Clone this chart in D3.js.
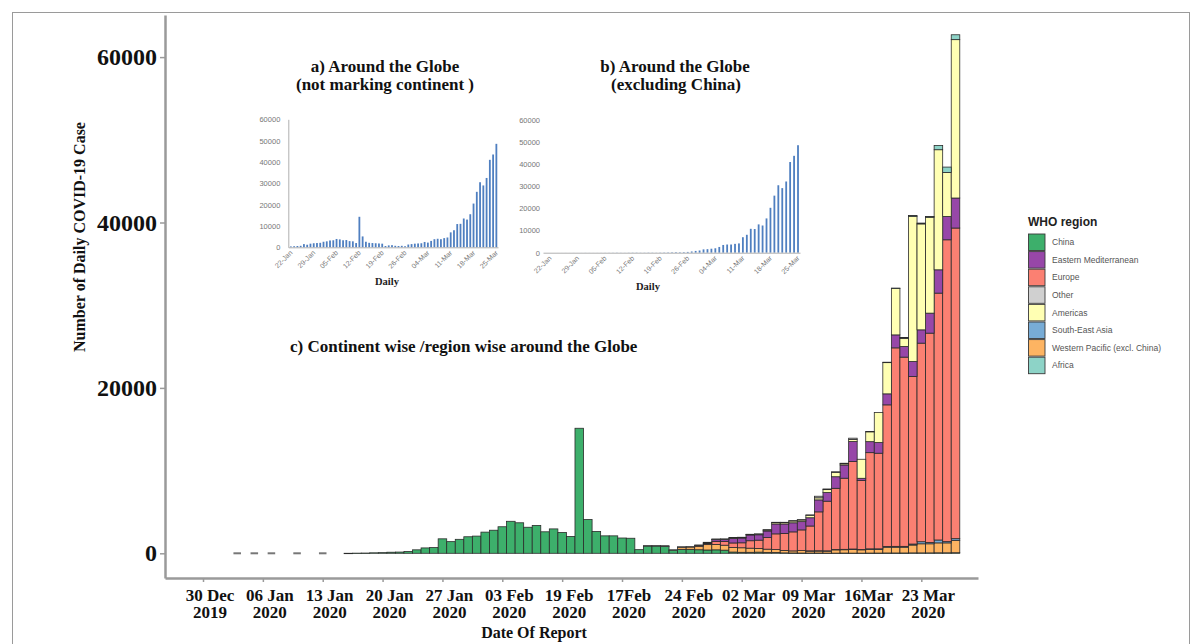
<!DOCTYPE html>
<html><head><meta charset="utf-8">
<script src="https://cdn.jsdelivr.net/npm/d3@7/dist/d3.min.js"></script>
<style>body{margin:0;background:#fff}svg{display:block}</style>
</head><body>
<svg id="chart" width="1200" height="644"></svg>
<script>
// ---------------- DATA ----------------
// Main chart: days with zero reported cases, then consecutive daily reports starting 16 Jan 2020
const zeroDays = ["2020-01-03","2020-01-05","2020-01-07","2020-01-10","2020-01-13"];
const firstDay = "2020-01-16";
const china = [4,17,30,60,80,130,150,220,420,650,690,1750,1410,1690,2000,2080,2560,2790,3210,3870,3690,3150,3370,2600,2950,2520,2040,15120,4090,2640,2110,2110,1850,1820,440,880,880,820,380,480,480,430,400,420,380,150,120,120,140,100,100,50,40,30,30,30,20,20,30,20,20,30,30,40,40,40,50,50,50,60,60,70];
const westernPacific = [0,0,0,0,0,0,0,0,0,0,0,0,0,0,0,0,0,0,0,0,0,0,0,0,0,0,0,0,0,0,0,0,0,0,0,0,0,0,0,250,280,420,650,650,600,550,550,500,450,400,350,300,250,300,250,250,250,400,400,450,400,450,450,700,700,700,950,1100,1100,1200,1200,1500];
const southEastAsia = [0,0,0,0,0,0,0,0,0,0,0,0,0,0,0,0,0,0,0,0,0,0,0,0,0,0,0,0,0,0,0,0,0,0,0,0,0,0,0,0,0,0,0,0,0,0,0,0,0,0,0,0,0,0,20,30,30,40,50,50,50,60,60,80,100,100,120,250,150,350,150,200];
const europe = [0,0,0,0,0,0,0,0,0,0,0,0,0,0,0,0,0,0,0,0,0,0,0,0,0,0,0,0,0,0,0,0,0,0,0,0,0,0,0,0,0,80,120,350,450,550,600,900,1000,1400,1900,2050,2300,2500,3000,4700,6000,7400,8600,10570,8320,11630,11560,17130,24000,22880,20250,24010,25320,29850,36500,37560];
const easternMed = [0,0,0,0,0,0,0,0,0,0,0,0,0,0,0,0,0,0,0,0,0,0,0,0,0,0,0,0,0,0,0,0,0,0,0,0,0,0,0,0,0,40,80,250,250,550,580,700,650,800,1200,1150,1100,1000,1000,1450,1050,1400,1600,2420,280,1330,1290,1330,1570,1290,1820,1610,2420,2820,2820,3630];
const americas = [0,0,0,0,0,0,0,0,0,0,0,0,0,0,0,0,0,0,0,0,0,0,0,0,0,0,0,0,0,0,0,0,0,0,0,0,0,0,0,0,0,0,0,20,20,40,50,60,80,120,170,180,220,200,300,250,350,500,150,250,2300,1210,3630,3810,5600,950,17560,12810,11590,14520,5320,19150];
const other = [0,0,0,0,0,0,0,0,0,0,0,0,0,0,0,0,0,0,0,0,0,0,0,0,0,0,0,0,0,0,0,0,0,0,0,40,40,100,40,60,40,30,80,40,40,60,40,20,20,40,30,20,40,40,40,190,80,100,60,160,0,10,0,0,0,130,0,0,0,0,0,0];
const africa = [0,0,0,0,0,0,0,0,0,0,0,0,0,0,0,0,0,0,0,0,0,0,0,0,0,0,0,0,0,0,0,0,0,0,0,0,0,0,0,0,0,0,0,0,0,0,0,0,0,0,0,0,0,0,0,0,0,0,0,0,0,0,0,10,60,10,100,100,100,520,650,590];

const legendRegions = ["China","Eastern Mediterranean","Europe","Other","Americas","South-East Asia","Western Pacific (excl. China)","Africa"];
const regionColors = ["#3daf6b","#9747a8","#fb8072","#d0d0d0","#ffffb3","#78acd6","#fdb462","#8dd3c7"];
const stackOrder = ["China","Western Pacific (excl. China)","South-East Asia","Europe","Eastern Mediterranean","Americas","Other","Africa"];

const yTicks = [0,20000,40000,60000];
const xTickDates = ["2019-12-30","2020-01-06","2020-01-13","2020-01-20","2020-01-27","2020-02-03","2020-02-10","2020-02-17","2020-02-24","2020-03-02","2020-03-09","2020-03-16","2020-03-23"];
const xTickLine1 = ["30 Dec","06 Jan","13 Jan","20 Jan","27 Jan","03 Feb","19 Feb","17Feb","24 Feb","02 Mar","09 Mar","16Mar","23 Mar"];
const xTickLine2 = ["2019","2020","2020","2020","2020","2020","2020","2020","2020","2020","2020","2020","2020"];

// Insets: daily totals from 22 Jan to 25 Mar
const insetStart = "2020-01-22";
const insetGlobal = [400,500,600,700,1500,1200,1700,1900,2000,2100,2600,2800,3200,3300,3900,3700,3300,3400,2900,2800,2000,14300,5100,2600,2100,2000,1900,1800,1700,600,900,1000,700,600,700,500,1300,1500,1700,1800,1900,2500,2200,3000,3800,4000,3800,4300,4600,7000,8000,10900,11000,13500,13000,15500,20500,26000,30500,29000,32500,41000,43500,48500];
const insetExChina = [4,2,5,10,15,8,20,10,15,30,20,15,20,25,30,40,50,70,40,30,60,80,90,60,70,100,80,60,90,120,150,200,250,200,250,350,550,800,1000,1500,1600,1800,2000,2600,3500,3700,3700,4000,4200,7000,8100,10800,10700,12800,12300,15500,20300,25800,30500,29200,32200,41000,43800,48600];
const insetYTicks = [0,10000,20000,30000,40000,50000,60000];
const insetTickDates = ["2020-01-22","2020-01-29","2020-02-05","2020-02-12","2020-02-19","2020-02-26","2020-03-04","2020-03-11","2020-03-18","2020-03-25"];
const insetTickLabels = ["22-Jan","29-Jan","05-Feb","12-Feb","19-Feb","26-Feb","04-Mar","11-Mar","18-Mar","25-Mar"];

// ---------------- DRAW ----------------
const svg = d3.select("#chart");
const serif = "'Liberation Serif','Times New Roman',serif";
const sans = "'Liberation Sans',Arial,sans-serif";
const P = s => new Date(s + "T00:00:00Z");

svg.append("rect").attr("x",12.5).attr("y",12.5).attr("width",1177).attr("height",640)
  .attr("fill","none").attr("stroke","#9a9a9a").attr("stroke-width",1);

const x = d3.scaleUtc()
  .domain([new Date(Date.UTC(2019,11,25,13,20)), new Date(Date.UTC(2020,2,29,15,7))])
  .range([165, 978]);
const y = d3.scaleLinear().domain([-2987, 65090]).range([578, 15]);

// rows
const seriesByName = {
  "China": china, "Western Pacific (excl. China)": westernPacific, "South-East Asia": southEastAsia,
  "Europe": europe, "Eastern Mediterranean": easternMed, "Americas": americas, "Other": other, "Africa": africa
};
const start = P(firstDay);
const rows = china.map((v,i) => {
  const r = {date: d3.utcDay.offset(start, i)};
  stackOrder.forEach(k => r[k] = seriesByName[k][i]);
  return r;
});
const stacked = d3.stack().keys(stackOrder)(rows);
const colorOf = d3.scaleOrdinal().domain(legendRegions).range(regionColors);

const bars = svg.append("g");
stacked.forEach(layer => {
  bars.selectAll(null).data(layer.filter(d => d[1] - d[0] > 0)).enter().append("rect")
    .attr("x", d => x(d3.utcHour.offset(d.data.date, -12)))
    .attr("width", d => x(d3.utcHour.offset(d.data.date, 12)) - x(d3.utcHour.offset(d.data.date, -12)))
    .attr("y", d => y(d[1]))
    .attr("height", d => Math.max(0.4, y(d[0]) - y(d[1])))
    .attr("fill", colorOf(layer.key))
    .attr("stroke", "#2b2b2b").attr("stroke-width", 0.8);
});
// zero-report days drawn as flat outlines
svg.append("g").selectAll("line").data(zeroDays.map(P)).enter().append("line")
  .attr("x1", d => x(d3.utcHour.offset(d, -12)) + 0.5)
  .attr("x2", d => x(d3.utcHour.offset(d, 12)) - 0.5)
  .attr("y1", y(0)).attr("y2", y(0))
  .attr("stroke", "#777").attr("stroke-width", 2);

// Y axis
const gy = svg.append("g").attr("transform","translate(165,0)")
  .call(d3.axisLeft(y).tickValues(yTicks).tickSize(5).tickSizeOuter(0).tickPadding(3).tickFormat(d3.format("d")));
gy.select(".domain").attr("stroke","#9a9a9a").attr("stroke-width",2.5);
gy.selectAll(".tick line").attr("stroke","#9a9a9a").attr("stroke-width",1.5);
gy.selectAll(".tick text").attr("font-family",serif).attr("font-weight","bold").attr("font-size",24).attr("fill","#111");

// X axis
const gx = svg.append("g").attr("transform","translate(0,578)")
  .call(d3.axisBottom(x).tickValues(xTickDates.map(P)).tickSize(4).tickSizeOuter(0).tickFormat(() => ""));
gx.select(".domain").attr("stroke","#9a9a9a").attr("stroke-width",2.5);
gx.selectAll(".tick line").attr("stroke","#9a9a9a").attr("stroke-width",1.5);
gx.selectAll(".tick text").remove();
const xl = svg.append("g").attr("font-family",serif).attr("font-weight","bold").attr("font-size",17).attr("fill","#111").attr("text-anchor","middle");
xTickDates.forEach((d,i) => {
  xl.append("text").attr("x", x(P(d)) + 7).attr("y", 601).text(xTickLine1[i]);
  xl.append("text").attr("x", x(P(d)) + 7).attr("y", 618).text(xTickLine2[i]);
});

// Axis titles
svg.append("text").attr("x",534).attr("y",638).attr("text-anchor","middle")
  .attr("font-family",serif).attr("font-weight","bold").attr("font-size",16).attr("fill","#111").text("Date Of Report");
svg.append("text").attr("transform","translate(85,237) rotate(-90)").attr("text-anchor","middle")
  .attr("font-family",serif).attr("font-weight","bold").attr("font-size",16).attr("fill","#111").text("Number of Daily COVID-19 Case");

// Panel titles
const titles = [
  {t:"a) Around the Globe", x:385, y:72, a:"middle"},
  {t:"(not marking continent )", x:385, y:90, a:"middle"},
  {t:"b) Around the Globe", x:675, y:72, a:"middle"},
  {t:"(excluding China)", x:676, y:90, a:"middle"},
  {t:"c) Continent wise /region wise around the Globe", x:290, y:352, a:"start"}
];
svg.append("g").selectAll("text").data(titles).enter().append("text")
  .attr("x",d=>d.x).attr("y",d=>d.y).attr("text-anchor",d=>d.a)
  .attr("font-family",serif).attr("font-weight","bold").attr("font-size",17).attr("fill","#111").text(d=>d.t);

// Legend
const lg = svg.append("g");
lg.append("text").attr("x",1028).attr("y",226).attr("font-family",sans).attr("font-weight","bold")
  .attr("font-size",12).attr("fill","#222").text("WHO region");
legendRegions.forEach((r,i) => {
  lg.append("rect").attr("x",1028.5).attr("y",234 + i*17.6).attr("width",16.5).attr("height",16.5)
    .attr("fill",colorOf(r)).attr("stroke","#3a3a3a").attr("stroke-width",0.9);
  lg.append("text").attr("x",1052).attr("y",234 + i*17.6 + 11.2).attr("font-family",sans)
    .attr("font-size",8.5).attr("fill","#555").text(r);
});

// Insets
function inset(values, xr, xDom, yr, showYLine, labelX, labelY) {
  const s = P(insetStart);
  const xs = d3.scaleUtc().domain(xDom).range(xr);
  const ys = d3.scaleLinear().domain([0,60000]).range(yr);
  const g = svg.append("g");
  g.selectAll("rect").data(values).enter().append("rect")
    .attr("x",(v,i)=>xs(d3.utcDay.offset(s,i)) - 0.9).attr("width",1.8)
    .attr("y",v=>ys(v)).attr("height",v=>ys(0)-ys(v))
    .attr("fill","#4f7fc0");
  const ya = g.append("g").attr("transform",`translate(${xr[0]},0)`)
    .call(d3.axisLeft(ys).tickValues(insetYTicks).tickSize(0).tickPadding(showYLine ? 8 : 3).tickFormat(d3.format("d")));
  ya.select(".domain").attr("stroke", showYLine ? "#b0b0b0" : "none").attr("stroke-width",1);
  ya.selectAll("text").attr("font-family",sans).attr("font-size",7.5).attr("fill","#777");
  const xa = g.append("g").attr("transform",`translate(0,${yr[0]})`)
    .call(d3.axisBottom(xs).tickValues(insetTickDates.map(P)).tickSize(0).tickSizeOuter(0).tickFormat(""));
  xa.select(".domain").attr("stroke","#b0b0b0").attr("stroke-width",1);
  xa.selectAll(".tick text").remove();
  insetTickDates.forEach((d,i) => {
    g.append("text").attr("transform",`translate(${xs(P(d))+2},${yr[0]+6}) rotate(-45)`)
      .attr("text-anchor","end").attr("font-family",sans).attr("font-size",7).attr("fill","#777")
      .text(insetTickLabels[i]);
  });
  g.append("text").attr("x",labelX).attr("y",labelY).attr("text-anchor","middle")
    .attr("font-family",serif).attr("font-weight","bold").attr("font-size",10.5).attr("fill","#222").text("Daily");
}
inset(insetGlobal, [288.3, 498], [new Date(Date.UTC(2020,0,21,5,0)), new Date(Date.UTC(2020,2,25,12,0))], [247.3, 119.3], true, 387, 285);
inset(insetExChina, [543, 800], [new Date(Date.UTC(2020,0,20,5,20)), new Date(Date.UTC(2020,2,25,12,10))], [252.7, 120], false, 648, 290);
</script>
</body></html>
